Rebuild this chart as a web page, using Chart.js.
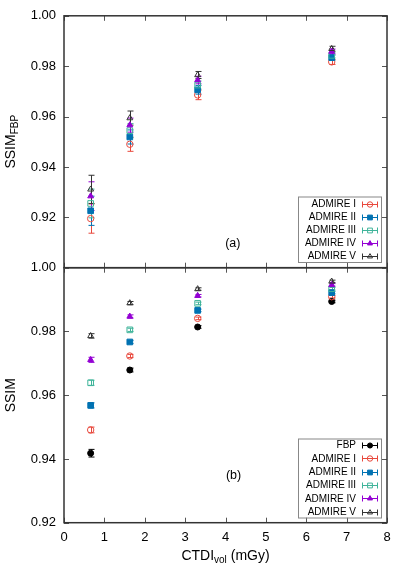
<!DOCTYPE html>
<html>
<head>
<meta charset="utf-8">
<script src="https://cdn.jsdelivr.net/npm/chart.js@4.4.1/dist/chart.umd.min.js"></script>
<style>
  html, body { margin: 0; padding: 0; background: #fff; }
  #wrap { position: relative; width: 411px; height: 587px; }
  canvas { position: absolute; left: 0; top: 0; }
</style>
</head>
<body>
<div id="wrap">
  <canvas id="bot" width="411" height="587"></canvas>
  <canvas id="top" width="411" height="587"></canvas>
</div>
<script>
// ---- data ----
const doses = [0.66, 1.63, 3.31, 6.63];
const xTicks = [0, 1, 2, 3, 4, 5, 6, 7, 8];
const topTicks = [0.90, 0.92, 0.94, 0.96, 0.98, 1.00];
const botTicks = [0.92, 0.94, 0.96, 0.98, 1.00];

// panel (a): SSIM relative to FBP
const aI   = [0.9195, 0.9490, 0.9686, 0.9817];
const aII  = [0.9226, 0.9519, 0.9706, 0.9834];
const aIII = [0.9255, 0.9544, 0.9725, 0.9843];
const aIV  = [0.9284, 0.9566, 0.9745, 0.9858];
const aV   = [0.9311, 0.9594, 0.9765, 0.9869];
const aErrI   = [0.0058, 0.0028, 0.0019, 0.0010];
const aErrII  = [0.0058, 0.0028, 0.0017, 0.0010];
const aErrIII = [0.0057, 0.0028, 0.0016, 0.0010];
const aErrIV  = [0.0057, 0.0028, 0.0015, 0.0010];
const aErrV   = [0.0056, 0.0028, 0.0014, 0.0010];

// panel (b): SSIM
const bFBP = [0.9418, 0.9679, 0.9814, 0.9894];
const bI   = [0.9491, 0.9723, 0.9841, 0.9909];
const bII  = [0.9568, 0.9767, 0.9866, 0.9922];
const bIII = [0.9639, 0.9805, 0.9888, 0.9934];
const bIV  = [0.9711, 0.9847, 0.9912, 0.9946];
const bV   = [0.9786, 0.9889, 0.9933, 0.9957];
const bErrFBP = [0.0012, 0.0006, 0.0004, 0.0004];
const bErrI   = [0.0009, 0.0005, 0.0004, 0.0004];
const bErrII  = [0.0008, 0.0005, 0.0004, 0.0004];
const bErrIII = [0.0008, 0.0005, 0.0004, 0.0004];
const bErrIV  = [0.0008, 0.0005, 0.0004, 0.0004];
const bErrV   = [0.0007, 0.0005, 0.0004, 0.0004];

const names = ['FBP', 'ADMIRE I', 'ADMIRE II', 'ADMIRE III', 'ADMIRE IV', 'ADMIRE V'];

// ---- styles ----
const FONT = "'Liberation Sans', Arial, Helvetica, sans-serif";
const S = {
  'FBP':        { color: '#000000', style: 'circle',   fill: true,  r: 3.0 },
  'ADMIRE I':   { color: '#e8483c', style: 'circle',   fill: false, r: 3.2 },
  'ADMIRE II':  { color: '#0072b2', style: 'rect',     fill: true,  r: 4.0 },
  'ADMIRE III': { color: '#3fb49a', style: 'rect',     fill: false, r: 4.0 },
  'ADMIRE IV':  { color: '#9400d3', style: 'triangle', fill: true,  r: 3.4 },
  'ADMIRE V':   { color: '#333333', style: 'triangle', fill: false, r: 3.4 }
};

function makeDs(name, ys, errs, order) {
  const st = S[name];
  return {
    label: name,
    data: doses.map((x, i) => ({ x: x, y: ys[i] })),
    errs: errs,
    showLine: false,
    pointStyle: st.style,
    pointRadius: st.r,
    pointHoverRadius: st.r,
    pointBorderWidth: 1,
    borderColor: st.color,
    backgroundColor: st.fill ? st.color : 'rgba(0,0,0,0)',
    order: order
  };
}

const errorBars = {
  id: 'errorBars',
  beforeDatasetsDraw(chart) {
    const ctx = chart.ctx, ys = chart.scales.y, xs = chart.scales.x;
    ctx.save();
    chart.data.datasets.forEach(ds => {
      if (!ds.errs) return;
      ctx.strokeStyle = ds.borderColor;
      ctx.lineWidth = 1;
      ds.data.forEach((p, i) => {
        const e = ds.errs[i];
        const px = Math.round(xs.getPixelForValue(p.x)) + 0.5;
        const y1 = ys.getPixelForValue(p.y + e), y2 = ys.getPixelForValue(p.y - e);
        ctx.beginPath();
        ctx.moveTo(px, y1); ctx.lineTo(px, y2);
        ctx.moveTo(px - 3, y1); ctx.lineTo(px + 3, y1);
        ctx.moveTo(px - 3, y2); ctx.lineTo(px + 3, y2);
        ctx.stroke();
      });
    });
    ctx.restore();
  }
};

function drawPointSym(ctx, name, x, y) {
  const st = S[name];
  ctx.save();
  ctx.strokeStyle = st.color;
  ctx.fillStyle = st.fill ? st.color : 'rgba(0,0,0,0)';
  ctx.lineWidth = 1;
  Chart.helpers.drawPoint(ctx, { pointStyle: st.style, radius: st.r * 0.85, borderWidth: 1, rotation: 0 }, x, y);
  ctx.restore();
}

const frame = {
  id: 'frame',
  afterDraw(chart, args, opts) {
    const ctx = chart.ctx, a = chart.chartArea;
    const xs = chart.scales.x, ys = chart.scales.y;
    ctx.save();
    // ticks
    ctx.strokeStyle = '#555';
    ctx.lineWidth = 1;
    ctx.beginPath();
    xTicks.forEach(v => {
      const px = Math.round(xs.getPixelForValue(v)) + 0.5;
      ctx.moveTo(px, a.bottom); ctx.lineTo(px, a.bottom - 5);
      ctx.moveTo(px, a.top); ctx.lineTo(px, a.top + 5);
    });
    opts.yTicks.forEach(v => {
      const py = Math.round(ys.getPixelForValue(v)) + 0.5;
      ctx.moveTo(a.left, py); ctx.lineTo(a.left + 5, py);
      ctx.moveTo(a.right, py); ctx.lineTo(a.right - 5, py);
    });
    ctx.stroke();
    // border
    ctx.strokeStyle = '#333';
    ctx.lineWidth = 1.5;
    ctx.strokeRect(a.left, a.top, a.right - a.left, a.bottom - a.top);

    // panel tag
    ctx.fillStyle = '#000';
    ctx.font = '12.5px ' + FONT;
    ctx.textAlign = 'center';
    ctx.textBaseline = 'middle';
    ctx.fillText(opts.tag, xs.getPixelForValue(opts.tagX), ys.getPixelForValue(opts.tagY));

    // y title with subscript
    const cy = (a.top + a.bottom) / 2;
    ctx.translate(15, cy);
    ctx.rotate(-Math.PI / 2);
    ctx.textAlign = 'left';
    ctx.textBaseline = 'alphabetic';
    ctx.font = '14px ' + FONT;
    const w1 = ctx.measureText(opts.yTitle).width;
    ctx.font = '10px ' + FONT;
    const w2 = opts.ySub ? ctx.measureText(opts.ySub).width : 0;
    const sx = -(w1 + w2) / 2;
    ctx.font = '14px ' + FONT;
    ctx.fillText(opts.yTitle, sx, 0);
    if (opts.ySub) {
      ctx.font = '10px ' + FONT;
      ctx.fillText(opts.ySub, sx + w1, 3);
    }
    ctx.setTransform(1, 0, 0, 1, 0, 0);

    // x title
    if (opts.xTitle) {
      const cx = (a.left + a.right) / 2;
      const parts = [['CTDI', 14, 0], ['vol', 10, 3], [' (mGy)', 14, 0]];
      let tw = 0;
      parts.forEach(p => { ctx.font = p[1] + 'px ' + FONT; tw += ctx.measureText(p[0]).width; });
      let x = cx - tw / 2;
      ctx.textAlign = 'left';
      ctx.textBaseline = 'alphabetic';
      parts.forEach(p => {
        ctx.font = p[1] + 'px ' + FONT;
        ctx.fillText(p[0], x, 560 + p[2]);
        x += ctx.measureText(p[0]).width;
      });
    }

    // legend
    const L = opts.legend;
    ctx.strokeStyle = '#888';
    ctx.lineWidth = 1;
    ctx.strokeRect(L.x + 0.5, L.y + 0.5, L.w, L.h);
    ctx.font = '10px ' + FONT;
    ctx.textAlign = 'right';
    ctx.textBaseline = 'middle';
    L.items.forEach((name, i) => {
      const y = L.y + L.first + i * L.step;
      ctx.fillStyle = '#000';
      ctx.fillText(name, L.textRight, y + 0.5);
      const c = S[name].color;
      ctx.strokeStyle = c;
      ctx.beginPath();
      const yy = Math.round(y) + 0.5;
      const hw = 8;
      ctx.moveTo(L.symX - hw, yy); ctx.lineTo(L.symX + hw, yy);
      ctx.moveTo(L.symX - hw + 0.5, yy - 3); ctx.lineTo(L.symX - hw + 0.5, yy + 3);
      ctx.moveTo(L.symX + hw - 0.5, yy - 3); ctx.lineTo(L.symX + hw - 0.5, yy + 3);
      ctx.stroke();
      drawPointSym(ctx, name, L.symX, yy);
    });
    ctx.restore();
  }
};

const tickFont = { family: FONT, size: 13 };

// ---- top chart (a) ----
new Chart(document.getElementById('top'), {
  type: 'scatter',
  data: {
    datasets: [
      makeDs('ADMIRE I', aI, aErrI, 4),
      makeDs('ADMIRE II', aII, aErrII, 3),
      makeDs('ADMIRE III', aIII, aErrIII, 2),
      makeDs('ADMIRE IV', aIV, aErrIV, 1),
      makeDs('ADMIRE V', aV, aErrV, 0)
    ]
  },
  options: {
    responsive: false,
    animation: false,
    devicePixelRatio: 1,
    layout: { padding: { left: 0, right: 24, top: 12.7, bottom: 587 - 267.7 } },
    plugins: {
      legend: { display: false },
      tooltip: { enabled: false },
      frame: {
        yTicks: topTicks, tag: '(a)', tagX: 4.18, tagY: 0.9095,
        yTitle: 'SSIM', ySub: 'FBP', xTitle: false,
        legend: { x: 298, y: 196.5, w: 83, h: 65.5, first: 7, step: 13.1, textRight: 356, symX: 370,
                  items: names.slice(1) }
      }
    },
    scales: {
      x: { type: 'linear', min: 0, max: 8, display: false },
      y: {
        type: 'linear', min: 0.9, max: 1.0,
        afterBuildTicks(s) { s.ticks = topTicks.map(v => ({ value: v })); },
        afterFit(s) { s.width = 64; },
        ticks: { font: tickFont, color: '#000', padding: 8,
                 callback: v => (v < 0.905 ? '' : v.toFixed(2)) },
        grid: { display: false, drawTicks: false, tickLength: 0 },
        border: { display: false }
      }
    }
  },
  plugins: [errorBars, frame]
});

// ---- bottom chart (b) ----
new Chart(document.getElementById('bot'), {
  type: 'scatter',
  data: {
    datasets: [
      makeDs('FBP', bFBP, bErrFBP, 5),
      makeDs('ADMIRE I', bI, bErrI, 4),
      makeDs('ADMIRE II', bII, bErrII, 3),
      makeDs('ADMIRE III', bIII, bErrIII, 2),
      makeDs('ADMIRE IV', bIV, bErrIV, 1),
      makeDs('ADMIRE V', bV, bErrV, 0)
    ]
  },
  options: {
    responsive: false,
    animation: false,
    devicePixelRatio: 1,
    layout: { padding: { left: 0, right: 24, top: 267.7, bottom: 0 } },
    plugins: {
      legend: { display: false },
      tooltip: { enabled: false },
      frame: {
        yTicks: botTicks, tag: '(b)', tagX: 4.2, tagY: 0.9347,
        yTitle: 'SSIM', ySub: '', xTitle: true,
        legend: { x: 298, y: 438.5, w: 83, h: 79, first: 6.5, step: 13.35, textRight: 356, symX: 370,
                  items: names }
      }
    },
    scales: {
      x: {
        type: 'linear', min: 0, max: 8,
        afterBuildTicks(s) { s.ticks = xTicks.map(v => ({ value: v })); },
        afterFit(s) { s.height = 587 - 522.7; },
        ticks: { font: tickFont, color: '#000', padding: 7 },
        grid: { display: false, drawTicks: false, tickLength: 0 },
        border: { display: false }
      },
      y: {
        type: 'linear', min: 0.92, max: 1.0,
        afterBuildTicks(s) { s.ticks = botTicks.map(v => ({ value: v })); },
        afterFit(s) { s.width = 64; },
        ticks: { font: tickFont, color: '#000', padding: 8, callback: v => v.toFixed(2) },
        grid: { display: false, drawTicks: false, tickLength: 0 },
        border: { display: false }
      }
    }
  },
  plugins: [errorBars, frame]
});
</script>
</body>
</html>
